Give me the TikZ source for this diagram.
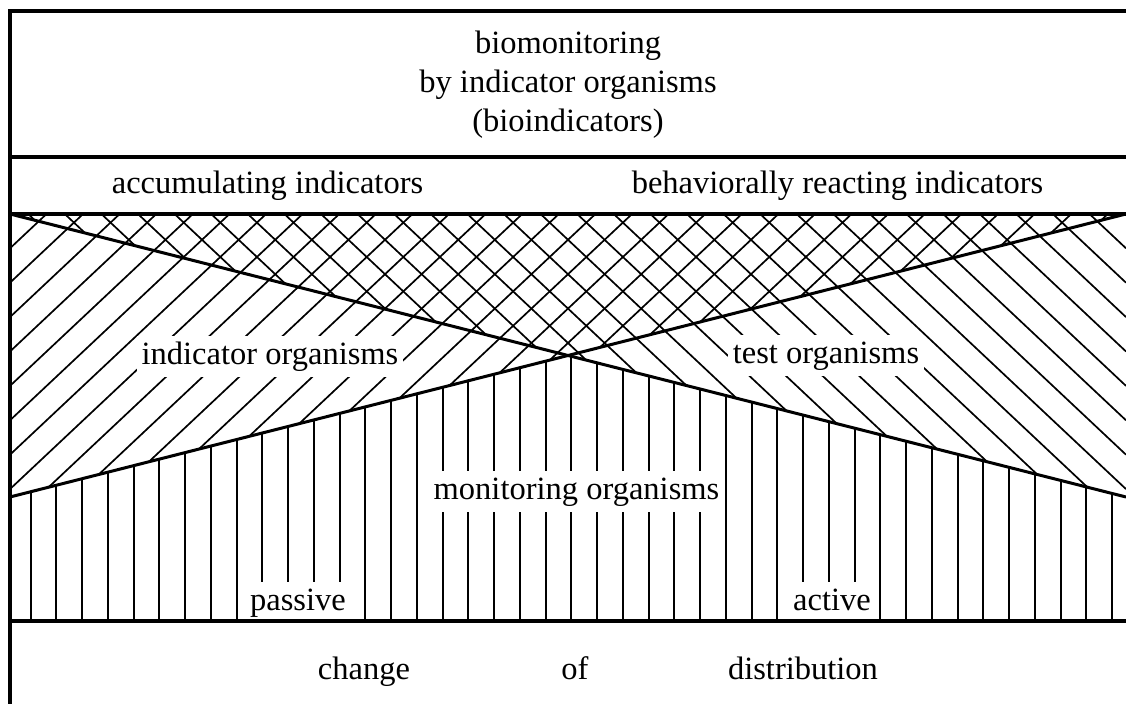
\documentclass[tikz,border=0pt]{standalone}
\usepackage{fontspec}
\setmainfont{Liberation Serif}
\begin{document}
\begin{tikzpicture}[x=0.5pt,y=-0.5pt,
  txt/.style={font=\fontsize{16.25pt}{19.5pt}\selectfont, inner sep=0pt, text height=11.5pt, text depth=4pt},
  lbl/.style={txt, fill=white, inner xsep=2.5pt, inner ysep=2.5pt},
  frameline/.style={line width=2pt, line cap=rect},
  border/.style={line width=1.5pt},
  hatch/.style={line width=0.85pt},
  vline/.style={line width=1pt}]
\clip (0,0) rectangle (1126,704);
\fill[white] (0,0) rectangle (1126,704);
% key coordinates
\coordinate (TL) at (10,214);
\coordinate (TR) at (1126,214);
\coordinate (BL) at (10,497);
\coordinate (BR) at (1126,497);
\coordinate (X) at (568,355.5);
\coordinate (FL) at (10,621);
\coordinate (FR) at (1126,621);
% "/" hatch: region above line BL-TR
\begin{scope}
  \clip (TL) -- (TR) -- (BL) -- cycle;
  \foreach \k in {-1,...,31}{
    \pgfmathsetmacro{\yy}{248.3+34.4*\k}
    \draw[hatch] (10,\yy) -- (1126,\yy-1049);
  }
\end{scope}
% "\" hatch: region above line TL-BR
\begin{scope}
  \clip (TL) -- (TR) -- (BR) -- cycle;
  \foreach \k in {-1,...,31}{
    \pgfmathsetmacro{\yy}{248.3+34.4*\k}
    \draw[hatch] (1126,\yy) -- (10,\yy-1049);
  }
\end{scope}
% vertical lines: region below both lines
\begin{scope}
  \clip (BL) -- (X) -- (BR) -- (FR) -- (FL) -- cycle;
  \foreach \k in {0,...,42}{
    \pgfmathsetmacro{\xx}{30.7+25.75*\k}
    \draw[vline] (\xx,340) -- (\xx,625);
  }
\end{scope}
% boundary lines
\draw[border] (TL) -- (BR);
\draw[border] (BL) -- (TR);
% labels on hatching
\node[lbl] (ind) at (270,357) {indicator organisms};
\node[lbl] (test) at (826,356) {test organisms};
\node[lbl] (mon) at (576.5,492) {monitoring organisms};
\node[lbl] (pas) at (298,603) {passive};
\node[lbl] (act) at (832,603) {active};
% frame
\draw[frameline] (10,708) -- (10,11) -- (1130,11);
\draw[frameline] (10,157) -- (1130,157);
\draw[frameline] (10,214) -- (1130,214);
\draw[frameline] (10,621) -- (1130,621);
% header texts
\node[txt, align=center, text height=, text depth=] (title) at (568,85) {biomonitoring\\by indicator organisms\\(bioindicators)};
\node[txt] (acc) at (267.5,186) {accumulating indicators};
\node[txt] (beh) at (837.5,186) {behaviorally reacting indicators};
\node[txt] (chg) at (364,672) {change};
\node[txt] (of) at (575,672) {of};
\node[txt] (dist) at (803,672) {distribution};
\end{tikzpicture}
\end{document}
